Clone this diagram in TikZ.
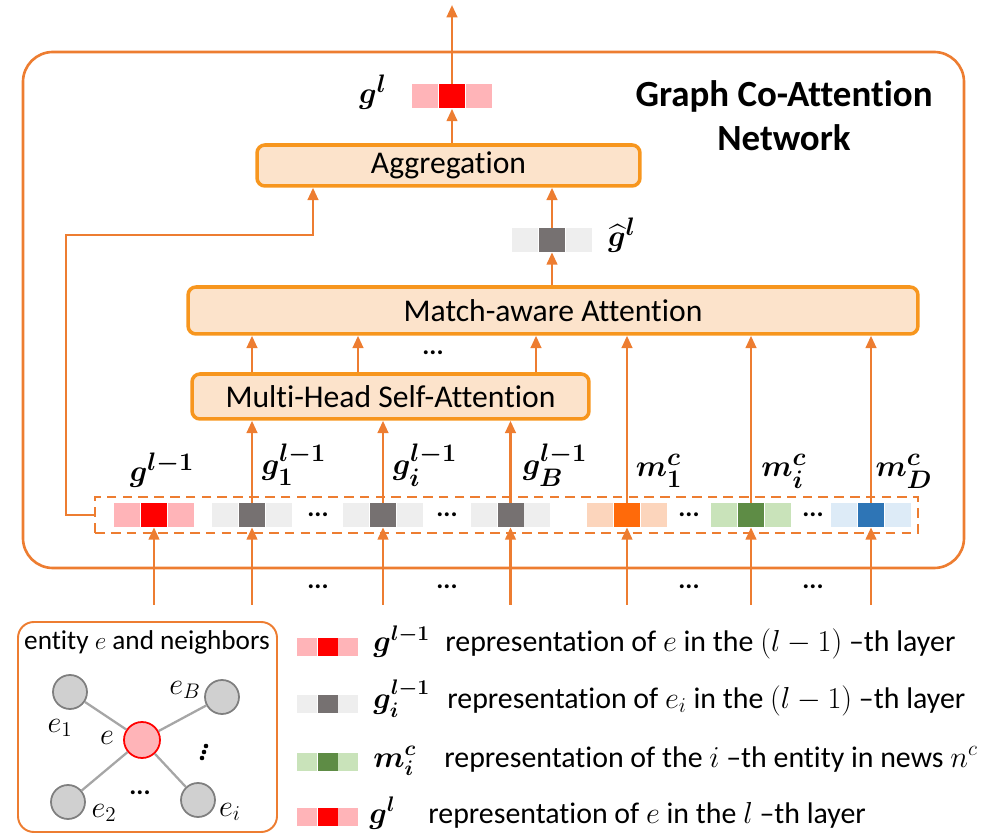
\documentclass[tikz,border=0pt]{standalone}
\usepackage{fontspec}
\setmainfont[Ligatures=NoCommon]{Carlito}
\usepackage{amsmath,bm}
\usetikzlibrary{arrows.meta}
\definecolor{lineor}{HTML}{ED7D31}
\definecolor{boxor}{HTML}{F7961E}
\definecolor{boxfill}{HTML}{FCE3CB}
\definecolor{redD}{HTML}{FF0000}
\definecolor{redL}{HTML}{FFB4B8}
\definecolor{grayD}{HTML}{767171}
\definecolor{grayL}{HTML}{EEEEEE}
\definecolor{orD}{HTML}{FF6A0A}
\definecolor{orL}{HTML}{FCD5BC}
\definecolor{grD}{HTML}{5E8C45}
\definecolor{grL}{HTML}{C9E3BA}
\definecolor{blD}{HTML}{2E75B6}
\definecolor{blL}{HTML}{DDEBF7}
\definecolor{entgray}{HTML}{7F7F7F}
\definecolor{entfill}{HTML}{D0D0D0}
\definecolor{edgegray}{HTML}{A6A6A6}
\newcommand{\featbar}[5]{%
  \node[#5,fill=#4] (#1) at #2 {};
  \node[#5,fill=#3,anchor=east] at (#1.west) {};
  \node[#5,fill=#3,anchor=west] at (#1.east) {};
}
\tikzset{
  arr/.style={draw=lineor, line width=1.4pt, -{Triangle[length=7pt,width=6pt]}},
  modbox/.style={draw=boxor, fill=boxfill, line width=2pt, rounded corners=4.5pt, inner sep=0pt, font=\fontsize{18}{22}\selectfont},
  bc/.style={inner sep=0pt, minimum width=0.52cm, minimum height=0.48cm, draw=none},
  sc/.style={inner sep=0pt, minimum width=0.4cm, minimum height=0.36cm, draw=none},
  lab/.style={inner sep=0pt, anchor=base, font=\fontsize{19}{22}\selectfont},
  ell/.style={font=\fontsize{15}{16}\selectfont\bfseries, inner sep=0pt},
  ent/.style={circle, draw=entgray, fill=entfill, line width=1pt, minimum size=0.68cm, inner sep=0pt},
  elab/.style={inner sep=0pt, font=\fontsize{18}{20}\selectfont},
  legtxt/.style={inner sep=0pt, anchor=base west, font=\fontsize{17}{20}\selectfont},
  legmath/.style={inner sep=0pt, anchor=base west, font=\fontsize{18}{20}\selectfont},
}
\begin{document}
\begin{tikzpicture}[x=0.02cm, y=-0.02cm]
\useasboundingbox (0,0) rectangle (991,837);
% outer frame
\draw[lineor, line width=1.5pt, rounded corners=17pt] (23,52) rectangle (964,568);
\node[inner sep=0pt, align=center, font=\fontsize{21}{25}\selectfont\bfseries] (title) at (784,116) {Graph Co-Attention\\Network};

% modules
\node[modbox, minimum width=7.66cm, minimum height=0.82cm] (agg) at (448.5,165.5) {Aggregation};
\node[modbox, minimum width=14.6cm, minimum height=0.94cm] (ma) at (553,310.5) {Match-aware Attention};
\node[modbox, minimum width=7.94cm, minimum height=0.9cm] (mhsa) at (390.5,396.5) {Multi-Head Self-Attention};

% output vectors
\featbar{glc}{(452,96.5)}{redL}{redD}{bc}
\featbar{ghc}{(552,240)}{grayL}{grayD}{bc}
\node[lab] (gllab) at (373,104) {$\bm{g}^{\bm{l}}$};
\node[lab] (ghlab) at (622,247) {$\bm{\widehat{g}}^{\bm{l}}$};
\coordinate (top) at (452,5);

% dashed row
\node[draw=lineor, dashed, dash pattern=on 5.5pt off 3.5pt, line width=1.5pt, minimum width=16.46cm, minimum height=0.72cm, inner sep=0pt] (row) at (506.5,515) {};
\featbar{gp}{(154,515)}{redL}{redD}{bc}
\featbar{ga}{(252,515)}{grayL}{grayD}{bc}
\featbar{gi}{(383,515)}{grayL}{grayD}{bc}
\featbar{gb}{(510.5,515)}{grayL}{grayD}{bc}
\featbar{ma1}{(627,515)}{orL}{orD}{bc}
\featbar{mai}{(751,515)}{grL}{grD}{bc}
\featbar{mad}{(871,515)}{blL}{blD}{bc}
\node[ell] (d1) at (318,515) {...};
\node[ell] (d2) at (447,515) {...};
\node[ell] (d3) at (689,515) {...};
\node[ell] (d4) at (813,515) {...};

% row labels
\node[lab] (lgp) at (162,482) {$\bm{g}^{\bm{l-1}}$};
\node[lab] (lga) at (294,475) {$\bm{g}_{\bm{1}}^{\bm{l-1}}$};
\node[lab] (lgi) at (425,475) {$\bm{g}_{\bm{i}}^{\bm{l-1}}$};
\node[lab] (lgb) at (555,475) {$\bm{g}_{\bm{B}}^{\bm{l-1}}$};
\node[lab] (lm1) at (659,477) {$\bm{m}_{\bm{1}}^{\bm{c}}$};
\node[lab] (lmi) at (784,477) {$\bm{m}_{\bm{i}}^{\bm{c}}$};
\node[lab] (lmd) at (904,477) {$\bm{m}_{\bm{D}}^{\bm{c}}$};

% inputs
\foreach \n/\x in {gp/154, ga/252, gi/383, gb/510.5, ma1/627, mai/751, mad/871}{
  \coordinate (in-\n) at (\x,605);
  \draw[arr] (in-\n) -- (\n.south);
}
\node[ell] (b1) at (318,587) {...};
\node[ell] (b2) at (447,587) {...};
\node[ell] (b3) at (689,587) {...};
\node[ell] (b4) at (813,587) {...};

% row to modules
\foreach \n in {ga, gi, gb}{ \draw[arr] (\n.north) -- (mhsa.south -| \n.north); }
\foreach \n in {ma1, mai, mad}{ \draw[arr] (\n.north) -- (ma.south -| \n.north); }
\foreach \x [count=\k] in {252, 358, 536}{
  \coordinate (h\k) at (\x,0);
  \draw[arr] (mhsa.north -| h\k) -- (ma.south -| h\k);
}
\node[ell] (dm) at (433,353) {...};

% upper flow
\draw[arr] (ma.north -| ghc.south) -- (ghc.south);
\draw[arr] (ghc.north) -- (agg.south -| ghc.north);
\draw[arr] (agg.north -| glc.south) -- (glc.south);
\draw[arr] (glc.north) -- (top);
\coordinate (loopc) at (66,235);
\coordinate (aggx) at (313,235);
\draw[arr] (row.west) -- (row.west -| loopc) -- (loopc) -- (aggx) -- (agg.south -| aggx);

% legend graph
\draw[lineor, line width=1.1pt, rounded corners=9pt] (18,622) rectangle (277,832);
\node[inner sep=0pt, anchor=base, font=\fontsize{15.5}{18}\selectfont] (legtitle) at (147,650) {entity $e$ and neighbors};
\node[ent] (e1) at (70,692) {};
\node[ent] (eB) at (222,697) {};
\node[ent] (e2) at (68,802) {};
\node[ent] (ei) at (198,800) {};
\node[ent, draw=redD, fill=redL, minimum size=0.72cm] (ec) at (142,740) {};
\foreach \n in {e1,eB,e2,ei}{ \draw[edgegray, line width=1.3pt] (ec) -- (\n); }
\node[elab] (le1) at (60,728) {$e_1$};
\node[elab] (leB) at (185,690) {$e_B$};
\node[elab] (lec) at (107,738) {$e$};
\node[elab] (le2) at (104,813) {$e_2$};
\node[elab] (lei) at (230,812) {$e_i$};
\foreach \px/\py in {206/746, 204/752, 202/758}{ \fill (\px,\py) circle[radius=1.3pt]; }
\node[ell] (hd) at (140,793) {...};

% legend entries
\featbar{k1}{(327.5,647)}{redL}{redD}{sc}
\featbar{k2}{(327.5,704)}{grayL}{grayD}{sc}
\featbar{k3}{(327.5,762)}{grL}{grD}{sc}
\featbar{k4}{(327.5,817)}{redL}{redD}{sc}
\node[legmath] (km1) at (373,652) {$\bm{g}^{\bm{l-1}}$};
\node[legmath] (km2) at (373,708) {$\bm{g}_{\bm{i}}^{\bm{l-1}}$};
\node[legmath] (km3) at (373,767) {$\bm{m}_{\bm{i}}^{\bm{c}}$};
\node[legmath] (km4) at (369,823) {$\bm{g}^{\bm{l}}$};
\node[legtxt] (kt1) at (445,652) {representation of $e$ in the $(l-1)$ –th layer};
\node[legtxt] (kt2) at (447,708) {representation of $e_i$ in the $(l-1)$ –th layer};
\node[legtxt] (kt3) at (444,767) {representation of the $i$ –th entity in news $n^c$};
\node[legtxt] (kt4) at (428,823) {representation of $e$ in the $l$ –th layer};
\end{tikzpicture}
\end{document}
